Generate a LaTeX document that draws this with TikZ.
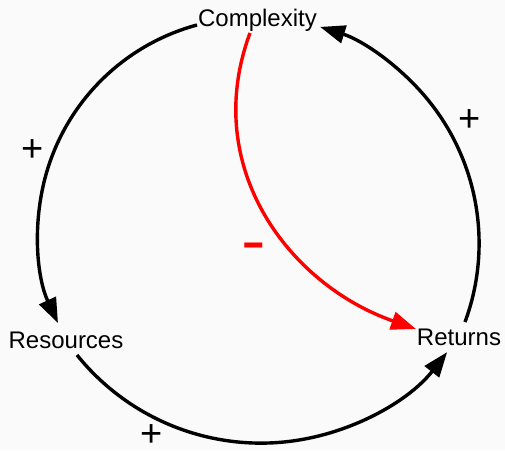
\documentclass[tikz,border=0pt]{standalone}
\usepackage{fontspec}
\setmainfont{Liberation Sans}
\usetikzlibrary{arrows.meta}
\definecolor{bg}{RGB}{250,250,250}
\begin{document}
\begin{tikzpicture}[x=1pt,y=1pt,
  lbl/.style={font=\fontsize{24}{28}\selectfont, inner sep=0pt, anchor=base},
  pol/.style={font=\fontsize{38}{40}\selectfont, inner sep=0pt},
  link/.style={line width=3.4pt, -{Triangle[length=25pt,width=18pt]}},
  neg/.style={link, red}]
\fill[bg] (0,0) rectangle (505,450);
\useasboundingbox (0,0) rectangle (505,450);
\node[lbl] (cx) at (257.5,423.3) {Complexity};
\node[lbl] (rs) at (66,101.7) {Resources};
\node[lbl] (rt) at (459,105) {Returns};
\coordinate (a1) at (197,425);
\coordinate (a2) at (77,95);
\coordinate (a3) at (465,128);
\coordinate (r1) at (250,417);
\coordinate (r2) at (416,121);
\draw[link] (a1) arc[start angle=105.1, end angle=204.9, radius=215];
\draw[link] (a2) arc[start angle=218.8, end angle=322.1, radius=236];
\draw[link] (a3) arc[start angle=-20.3, end angle=72.6, radius=226.8];
\draw[neg] (r1) .. controls (200,282) and (290,165) .. (r2);
\node[pol] (p1) at (33,299) {+};
\node[pol] (p2) at (152,14) {+};
\node[pol] (p3) at (470,329) {+};
\node[font=\fontsize{64}{70}\selectfont, inner sep=0pt, text=red] (m1) at (254,197) {\scalebox{1.15}[1]{-}};
\end{tikzpicture}
\end{document}
